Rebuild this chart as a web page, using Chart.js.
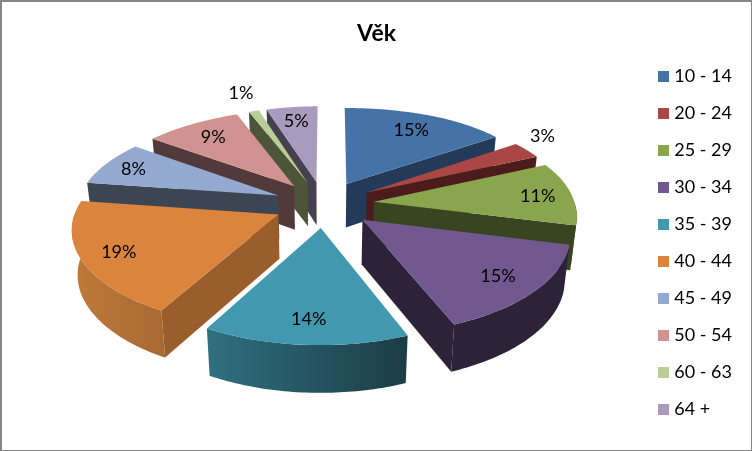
<!DOCTYPE html>
<html>
<head>
<meta charset="utf-8">
<title>Věk</title>
<script src="https://cdn.jsdelivr.net/npm/chart.js"></script>
<style>
  html, body { margin: 0; padding: 0; background: #fff; }
  #wrap { position: relative; width: 753px; height: 451px; overflow: hidden; }
  #frame { position: absolute; left: 0; top: 0; width: 749px; height: 448px; pointer-events: none;
           border-style: solid; border-color: #868686; border-width: 2px 1px 1px 2px; }
</style>
</head>
<body>
<div id="wrap">
  <canvas id="pie" width="753" height="451"></canvas>
  <div id="frame"></div>
</div>
<script>
// data
var categories = ['10 - 14', '20 - 24', '25 - 29', '30 - 34', '35 - 39', '40 - 44', '45 - 49', '50 - 54', '60 - 63', '64 +'];
var shares = [15, 3, 11, 15, 14, 19.3, 7.7, 9, 1, 5];

// colours: top face, cut face, rim gradient (left, right)
var topColors = ['#4572A7', '#AA4643', '#89A54E', '#71588F', '#4198AF', '#DB843D', '#93A9CF', '#D19392', '#B9CD96', '#A99BBD'];
var faceColors = ['#233B58', '#4B1C1B', '#394420', '#2D2338', '#1B3C45', '#9A5E2C', '#3C4653', '#533A3A', '#4D5539', '#47414F'];
var rimLeft = ['#233B58', '#4B1C1B', '#394420', '#2D2338', '#30707F', '#BE7A3A', '#3C4653', '#533A3A', '#4D5539', '#47414F'];
var rimRight = ['#233B58', '#4B1C1B', '#394420', '#2D2338', '#1B3C45', '#A86A32', '#3C4653', '#533A3A', '#4D5539', '#47414F'];
// where each percentage sits: along the radius, and turned off the slice middle
var labelRadius = [0.78, 1.2, 0.83, 0.8, 0.8, 0.82, 0.84, 0.78, 1.3, 0.8];
var labelTurn = [0, -0.1, 0, 0, 0, 0, 0, 0, 0, 0];

// fake 3D view of the pie plane
var CX = 324, CY = 204, SX = 201, SY = 92.5, PERSP = 0.145, PERSP_X = 0.13, REAR_SHIFT = 5;
var DEPTH = 44, DEPTH_FRONT = 3, CONVERGE = 0.023;
var FONT = 'Lato, "Open Sans", sans-serif';

function project(u, v) {
    // the rear sides of the pie sit a little to the right, the 12 o'clock edge does not
    var shift = v < 0 ? -REAR_SHIFT * v * Math.min(1, Math.abs(u) * 1.5) : 0;
    return {
        x: CX + SX * u / (1 - PERSP_X * v) + shift,
        y: CY + SY * v / (1 - PERSP * v)
    };
}
function drop(p, v) {
    return { x: CX + (p.x - CX) * (1 - CONVERGE), y: p.y + DEPTH + DEPTH_FRONT * v };
}

// normalised sector read from the arc element chart.js laid out
function sector(arc) {
    var p = arc.getProps(['startAngle', 'endAngle', 'outerRadius'], true);
    var mid = (p.startAngle + p.endAngle) / 2;
    var e = (arc.options.offset || 0) / 2 / p.outerRadius;
    return { s: p.startAngle, e: p.endAngle, mid: mid, ox: Math.cos(mid) * e, oy: Math.sin(mid) * e };
}
function rimPoint(sec, a) {
    return { u: sec.ox + Math.cos(a), v: sec.oy + Math.sin(a) };
}
function fillPoly(ctx, pts, fill) {
    ctx.beginPath();
    pts.forEach(function(p, i) { if (i) ctx.lineTo(p.x, p.y); else ctx.moveTo(p.x, p.y); });
    ctx.closePath();
    ctx.fillStyle = fill;
    ctx.fill();
}
function cutFace(ctx, sec, a, fill) {
    var apex = project(sec.ox, sec.oy), q = rimPoint(sec, a), edge = project(q.u, q.v);
    fillPoly(ctx, [apex, edge, drop(edge, q.v), drop(apex, sec.oy)], fill);
}
function drawRim(ctx, sec, i) {
    // only the part of the rim facing the viewer (sin > 0)
    var k, from, to, top = [], bottom = [], n = 48;
    for (k = -1; k <= 1; k++) {
        from = Math.max(sec.s, 2 * Math.PI * k);
        to = Math.min(sec.e, 2 * Math.PI * k + Math.PI);
        if (to <= from) continue;
        top = []; bottom = [];
        for (var j = 0; j <= n; j++) {
            var q = rimPoint(sec, from + (to - from) * j / n), pt = project(q.u, q.v);
            top.push(pt);
            bottom.unshift(drop(pt, q.v));
        }
        var g = ctx.createLinearGradient(top[0].x, 0, top[n].x, 0);
        // arcs run right to left along the front
        g.addColorStop(0, rimRight[i]);
        g.addColorStop(1, rimLeft[i]);
        fillPoly(ctx, top.concat(bottom), g);
    }
}
function drawTop(ctx, sec, fill) {
    var pts = [project(sec.ox, sec.oy)], n = 64;
    for (var j = 0; j <= n; j++) {
        var q = rimPoint(sec, sec.s + (sec.e - sec.s) * j / n);
        pts.push(project(q.u, q.v));
    }
    fillPoly(ctx, pts, fill);
}

var pie3d = {
    id: 'pie3d',
    beforeDatasetDraw: function(chart, args) {
        var ctx = chart.ctx, arcs = args.meta.data;
        var total = shares.reduce(function(a, b) { return a + b; }, 0);
        var secs = arcs.map(sector);
        var order = secs.map(function(s, i) { return i; }).sort(function(a, b) {
            return Math.sin(secs[a].mid) - Math.sin(secs[b].mid);
        });
        ctx.save();
        order.forEach(function(i) {
            var sec = secs[i];
            if (-Math.cos(sec.s) > 0) cutFace(ctx, sec, sec.s, faceColors[i]);
            if (Math.cos(sec.e) > 0) cutFace(ctx, sec, sec.e, faceColors[i]);
            drawRim(ctx, sec, i);
            drawTop(ctx, sec, arcs[i].options.backgroundColor);
        });
        // percentage labels
        ctx.font = '18px ' + FONT;
        ctx.fillStyle = '#000';
        ctx.textAlign = 'center';
        ctx.textBaseline = 'middle';
        secs.forEach(function(sec, i) {
            var pct = Math.round(shares[i] / total * 100);
            var a = sec.mid + labelTurn[i], r = labelRadius[i];
            var p = project(sec.ox + Math.cos(a) * r, sec.oy + Math.sin(a) * r);
            ctx.fillText(pct + '%', p.x, p.y + 1);
        });
        ctx.restore();
        return false;
    }
};

function swatch(color) {
    var c = document.createElement('canvas');
    c.width = 11; c.height = 11;
    var g = c.getContext('2d');
    g.fillStyle = color;
    g.fillRect(0, 0, 11, 11);
    return c;
}

document.addEventListener('DOMContentLoaded', function() {
    var ctx = document.getElementById('pie').getContext('2d');
    new Chart(ctx, {
        type: 'pie',
        data: {
            labels: categories,
            datasets: [{ data: shares, backgroundColor: topColors, borderWidth: 0, offset: 78 }]
        },
        options: {
            responsive: false,
            animation: false,
            layout: { padding: { left: 11, right: 11, bottom: 13 } },
            plugins: {
                tooltip: { enabled: false },
                title: {
                    display: true,
                    text: 'Věk',
                    color: '#000',
                    font: { family: FONT, size: 23, weight: 'bold' },
                    padding: { top: 20, bottom: 0 }
                },
                legend: {
                    position: 'right',
                    fullSize: false,
                    labels: {
                        color: '#000',
                        font: { family: FONT, size: 18 },
                        usePointStyle: true,
                        boxWidth: 4,
                        padding: 19,
                        generateLabels: function(chart) {
                            var items = Chart.overrides.doughnut.plugins.legend.labels.generateLabels(chart);
                            items.forEach(function(it, i) { it.pointStyle = swatch(topColors[i]); });
                            return items;
                        }
                    }
                }
            }
        },
        plugins: [pie3d]
    });
});
</script>
</body>
</html>
